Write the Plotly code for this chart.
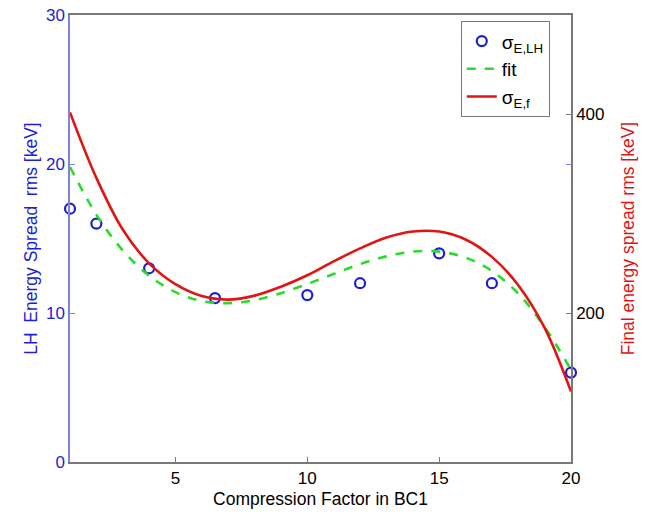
import plotly.graph_objects as go

# Measured data (left axis, keV)
x_meas = [1, 2, 4, 6.5, 10, 12, 15, 17, 20]
sigma_lh = [17.0, 16.0, 13.0, 11.0, 11.2, 12.0, 14.0, 12.0, 6.0]

# Fit curve (left axis, keV)
x_curve = [1, 2, 3, 4, 5, 6, 7, 8, 9, 10, 11, 12, 13, 14, 15, 16, 17, 18, 19, 20]
fit_vals = [19.8, 16.6, 14.2, 12.5, 11.4, 10.8, 10.66, 10.86, 11.33, 11.95, 12.62, 13.28,
            13.8, 14.12, 14.12, 13.72, 12.82, 11.3, 9.05, 6.2]

# Final energy spread (right axis, keV)
sigma_f = [402, 336, 284, 250, 229, 217, 213.5, 217.5, 226.5, 238, 252, 265,
           276, 282, 282, 274, 256.5, 228, 185, 121]

x_ticks = [5, 10, 15, 20]
y_left_ticks = [0, 10, 20, 30]
y_right_ticks = [200, 400]

BLUE = "rgb(30,30,210)"
AXBLUE = "rgb(130,130,210)"
GREY = "rgb(120,120,120)"
RED = "rgb(225,20,20)"
GREEN = "rgb(40,220,40)"
FONT = "Liberation Sans, Arial, sans-serif"

fig = go.Figure()
fig.add_trace(go.Scatter(
    x=x_meas, y=sigma_lh, mode="markers", name="σ<sub>E,LH</sub>", cliponaxis=False,
    marker=dict(symbol="circle-open", size=10, color=BLUE, line=dict(width=2.2, color=BLUE)),
))
fig.add_trace(go.Scatter(
    x=x_curve, y=fit_vals, mode="lines", name="fit",
    line=dict(color=GREEN, width=2.6, dash="dash", shape="spline"),
))
fig.add_trace(go.Scatter(
    x=x_curve, y=sigma_f, mode="lines", name="σ<sub>E,f</sub>", yaxis="y2",
    line=dict(color=RED, width=2.6, shape="spline"),
))

fig.update_layout(
    width=648, height=516,
    margin=dict(l=70, r=77, t=15, b=54),
    plot_bgcolor="white", paper_bgcolor="white",
    font=dict(family=FONT, size=15, color="black"),
    showlegend=True,
    legend=dict(
        x=0.780, y=0.986, xanchor="left", yanchor="top",
        bgcolor="white", bordercolor=GREY, borderwidth=1,
        font=dict(size=19, color="black"),
        tracegroupgap=2,
    ),
    xaxis=dict(
        range=[1, 20], tickvals=x_ticks, ticks="inside", ticklen=5,
        tickcolor=GREY, linecolor=GREY, linewidth=1.5, mirror=True,
        showgrid=False, zeroline=False, automargin=False,
        tickfont=dict(size=17, color="black"),
        title=dict(text="Compression Factor in BC1", font=dict(size=17.5, color="black"), standoff=6),
    ),
    yaxis=dict(
        range=[0, 30], tickvals=y_left_ticks, ticks="inside", ticklen=5,
        tickcolor=AXBLUE, linecolor=AXBLUE, linewidth=1.5, mirror="ticks",
        showgrid=False, zeroline=False, automargin=False,
        tickfont=dict(size=17, color=BLUE),
        title=dict(text="LH  Energy Spread  rms [keV]", font=dict(size=17.5, color=BLUE), standoff=4),
    ),
    yaxis2=dict(
        range=[50, 500], tickvals=y_right_ticks, ticks="inside", ticklen=5,
        overlaying="y", side="right", anchor="x", automargin=False,
        tickcolor=GREY, linecolor=GREY, linewidth=1.5,
        showgrid=False, zeroline=False,
        tickfont=dict(size=17, color="black"),
        title=dict(text="Final energy spread rms [keV]", font=dict(size=17.5, color=RED), standoff=18),
    ),
)

fig.write_html("out.html")
